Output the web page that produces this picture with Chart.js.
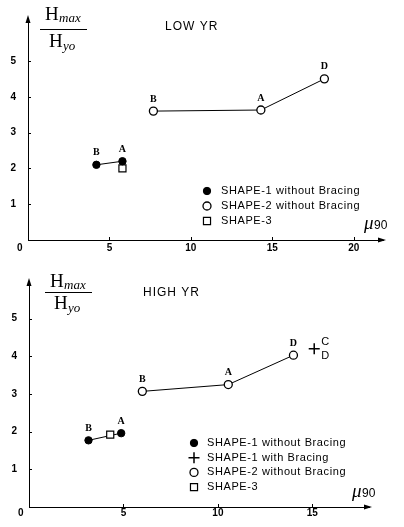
<!DOCTYPE html>
<html>
<head>
<meta charset="utf-8">
<script src="https://cdn.jsdelivr.net/npm/chart.js@4.4.0/dist/chart.umd.min.js"></script>
<style>
  body { margin: 0; background: #fff; width: 404px; height: 527px; position: relative; overflow: hidden; }
  canvas { position: absolute; left: 0; }
</style>
</head>
<body>
<canvas id="low" width="404" height="260" style="top:0"></canvas>
<canvas id="high" width="404" height="267" style="top:260px"></canvas>
<script>
// (mu90 vs Hmax/Hyo)

// LOW YR
const lowShape1X = [4.2, 5.8];
const lowShape1Y = [2.1, 2.2];
const lowShape1Tags = ['B', 'A'];
const lowShape2X = [7.7, 14.3, 18.2];
const lowShape2Y = [3.6, 3.63, 4.5];
const lowShape2Tags = ['B', 'A', 'D'];
const lowShape3X = [5.8];
const lowShape3Y = [2.0];

// HIGH YR
const highShape1X = [3.15, 4.88];
const highShape1Y = [1.77, 1.96];
const highShape1Tags = ['B', 'A'];
const highBracedX = [15.1];
const highBracedY = [4.2];
const highShape2X = [6.0, 10.55, 14.0];
const highShape2Y = [3.07, 3.25, 4.03];
const highShape2Tags = ['B', 'A', 'D'];
const highShape3X = [4.3];
const highShape3Y = [1.92];

const xTicksLow = [0, 5, 10, 15, 20];
const xTicksHigh = [0, 5, 10, 15];
const yTicks = [1, 2, 3, 4, 5];

const legendLow = ['SHAPE-1 without Bracing', 'SHAPE-2 without Bracing', 'SHAPE-3'];
const legendHigh = ['SHAPE-1 without Bracing', 'SHAPE-1 with Bracing', 'SHAPE-2 without Bracing', 'SHAPE-3'];

const SANS = '"Liberation Sans", Arial, sans-serif';
const SERIF = '"Liberation Serif", "Times New Roman", serif';

const pts = (xs, ys) => xs.map((x, i) => ({ x: x, y: ys[i] }));

// marker styles, also reused for the legend
const styles = {
  filled: { pointStyle: 'circle', pointRadius: 3.7, pointBackgroundColor: '#000', pointBorderColor: '#000', pointBorderWidth: 1 },
  open: { pointStyle: 'circle', pointRadius: 4, pointBackgroundColor: '#fff', pointBorderColor: '#000', pointBorderWidth: 1.3 },
  square: { pointStyle: 'rect', pointRadius: 5, pointBackgroundColor: '#fff', pointBorderColor: '#000', pointBorderWidth: 1.2 },
  cross: { pointStyle: 'cross', pointRadius: 5.5, pointBackgroundColor: '#000', pointBorderColor: '#000', pointBorderWidth: 1.5 },
};

function dataset(xs, ys, style, opts) {
  return Object.assign({
    data: pts(xs, ys),
    borderColor: '#000',
    borderWidth: 1,
    showLine: false,
    pointHoverRadius: styles[style].pointRadius,
  }, styles[style], opts || {});
}

// B / A / D letters above the markers
const tagPlugin = {
  id: 'tags',
  afterDatasetsDraw(chart) {
    const ctx = chart.ctx;
    ctx.save();
    ctx.fillStyle = '#000';
    ctx.textAlign = 'center';
    ctx.textBaseline = 'middle';
    chart.data.datasets.forEach((ds, i) => {
      const meta = chart.getDatasetMeta(i);
      if (ds.tags) {
        ctx.font = 'bold 10px ' + SERIF;
        meta.data.forEach((el, j) => ctx.fillText(ds.tags[j], el.x, el.y - 12));
      }
      if (ds.sideTags) {
        ctx.font = '11px ' + SANS;
        ctx.textAlign = 'left';
        meta.data.forEach((el) => {
          ctx.fillText(ds.sideTags[0], el.x + 7, el.y - 7);
          ctx.fillText(ds.sideTags[1], el.x + 7, el.y + 7);
        });
        ctx.textAlign = 'center';
      }
    });
    ctx.restore();
  }
};

// arrows, inward tick marks, fraction title, mu90, panel title and legend
const decorPlugin = {
  id: 'decor',
  afterDraw(chart) {
    const ctx = chart.ctx;
    const o = chart.options.plugins.decor;
    const a = chart.chartArea;
    const xs = chart.scales.x, ys = chart.scales.y;
    ctx.save();
    ctx.strokeStyle = '#000';
    ctx.fillStyle = '#000';
    ctx.lineWidth = 1;

    // arrow heads
    ctx.beginPath();
    ctx.moveTo(a.left, a.top - 3);
    ctx.lineTo(a.left - 2.5, a.top + 5);
    ctx.lineTo(a.left + 2.5, a.top + 5);
    ctx.closePath();
    ctx.fill();
    ctx.beginPath();
    ctx.moveTo(a.right + 3, a.bottom);
    ctx.lineTo(a.right - 5, a.bottom - 2.5);
    ctx.lineTo(a.right - 5, a.bottom + 2.5);
    ctx.closePath();
    ctx.fill();

    // inward ticks
    ctx.beginPath();
    o.xTicks.forEach((v) => {
      if (v === 0) return;
      const px = Math.round(xs.getPixelForValue(v)) + 0.5;
      ctx.moveTo(px, a.bottom);
      ctx.lineTo(px, a.bottom - 3);
    });
    yTicks.forEach((v) => {
      const py = Math.round(ys.getPixelForValue(v)) + 0.5;
      ctx.moveTo(a.left, py);
      ctx.lineTo(a.left + 3, py);
    });
    ctx.stroke();

    // H_max / H_yo
    const f = o.frac;
    ctx.textBaseline = 'alphabetic';
    ctx.textAlign = 'left';
    ctx.font = '19px ' + SERIF;
    ctx.fillText('H', f.x + 5, f.top);
    ctx.fillText('H', f.x + 9, f.bottom);
    ctx.font = 'italic 13px ' + SERIF;
    ctx.fillText('max', f.x + 19, f.top + 2);
    ctx.fillText('yo', f.x + 23, f.bottom + 3);
    ctx.beginPath();
    ctx.moveTo(f.x, f.line + 0.5);
    ctx.lineTo(f.x + 47, f.line + 0.5);
    ctx.stroke();

    // mu 90
    ctx.font = 'italic 19px ' + SERIF;
    ctx.fillText('\u03bc', o.mu.x, o.mu.y);
    ctx.font = '12px ' + SANS;
    ctx.fillText('90', o.mu.x + 10, o.mu.y);

    // panel title
    ctx.font = '12px ' + SANS;
    ctx.letterSpacing = '1px';
    ctx.textBaseline = 'middle';
    ctx.fillText(o.title.text, o.title.x, o.title.y);

    // legend
    const L = o.legend;
    ctx.font = '11px ' + SANS;
    ctx.letterSpacing = '0.6px';
    L.items.forEach((label, i) => {
      const y = L.y + i * L.step;
      const st = styles[L.marks[i]];
      ctx.fillStyle = st.pointBackgroundColor;
      ctx.strokeStyle = '#000';
      ctx.lineWidth = st.pointBorderWidth;
      ctx.beginPath();
      if (st.pointStyle === 'circle') {
        ctx.arc(L.x, y, st.pointRadius, 0, Math.PI * 2);
        ctx.fill();
        ctx.stroke();
      } else if (st.pointStyle === 'rect') {
        const s = st.pointRadius * Math.SQRT1_2;
        ctx.rect(L.x - s, y - s, 2 * s, 2 * s);
        ctx.fill();
        ctx.stroke();
      } else {
        ctx.moveTo(L.x - st.pointRadius, y);
        ctx.lineTo(L.x + st.pointRadius, y);
        ctx.moveTo(L.x, y - st.pointRadius);
        ctx.lineTo(L.x, y + st.pointRadius);
        ctx.stroke();
      }
      ctx.fillStyle = '#000';
      ctx.fillText(label, L.textX, y);
    });
    ctx.restore();
  }
};

function scales(xmax, ymax, xTicks, yWidth, xPad) {
  return {
    x: {
      type: 'linear',
      min: 0,
      max: xmax,
      grid: { display: false, drawTicks: false },
      border: { display: true, color: '#000', width: 1 },
      afterBuildTicks: (s) => { s.ticks = xTicks.map((v) => ({ value: v })); },
      afterFit: (s) => { s.height = 20; },
      ticks: {
        color: '#000',
        padding: xPad,
        maxRotation: 0,
        font: { family: SANS, size: 10, weight: 'bold' },
        callback: (v) => (v === 0 ? '0      ' : String(v)),
      },
    },
    y: {
      type: 'linear',
      min: 0,
      max: ymax,
      grid: { display: false, drawTicks: false },
      border: { display: true, color: '#000', width: 1 },
      afterBuildTicks: (s) => { s.ticks = yTicks.map((v) => ({ value: v })); },
      afterFit: (s) => { s.width = yWidth; },
      ticks: {
        color: '#000',
        padding: 12,
        font: { family: SANS, size: 10, weight: 'bold' },
      },
    },
  };
}

const common = {
  responsive: false,
  animation: false,
  devicePixelRatio: 1,
  events: [],
};

new Chart(document.getElementById('low'), {
  type: 'scatter',
  data: {
    datasets: [
      dataset(lowShape1X, lowShape1Y, 'filled', { showLine: true, tags: lowShape1Tags, order: 1 }),
      dataset(lowShape2X, lowShape2Y, 'open', { showLine: true, tags: lowShape2Tags, order: 2 }),
      dataset(lowShape3X, lowShape3Y, 'square', { order: 3 }),
    ],
  },
  options: Object.assign({}, common, {
    layout: { padding: { top: 13, right: 21, left: 0, bottom: 0 } },
    scales: scales(21.8, 6.2, xTicksLow, 28, 2),
    plugins: {
      legend: { display: false },
      tooltip: { enabled: false },
      decor: {
        xTicks: xTicksLow,
        frac: { x: 40, top: 20, line: 29, bottom: 47 },
        mu: { x: 364, y: 229 },
        title: { text: 'LOW YR', x: 165, y: 27 },
        legend: { items: legendLow, marks: ['filled', 'open', 'square'], x: 207, textX: 221, y: 191, step: 15 },
      },
    },
  }),
  plugins: [tagPlugin, decorPlugin],
});

new Chart(document.getElementById('high'), {
  type: 'scatter',
  data: {
    datasets: [
      dataset(highShape3X, highShape3Y, 'square', { order: 1 }),
      dataset(highShape1X, highShape1Y, 'filled', { showLine: true, tags: highShape1Tags, order: 2 }),
      dataset(highBracedX, highBracedY, 'cross', { sideTags: ['C', 'D'], order: 3 }),
      dataset(highShape2X, highShape2Y, 'open', { showLine: true, tags: highShape2Tags, order: 4 }),
    ],
  },
  options: Object.assign({}, common, {
    layout: { padding: { top: 21, right: 35, left: 0, bottom: 0 } },
    scales: scales(18, 6.0, xTicksHigh, 29, 0),
    plugins: {
      legend: { display: false },
      tooltip: { enabled: false },
      decor: {
        xTicks: xTicksHigh,
        frac: { x: 45, top: 27, line: 32, bottom: 49 },
        mu: { x: 352, y: 237 },
        title: { text: 'HIGH YR', x: 143, y: 33 },
        legend: { items: legendHigh, marks: ['filled', 'cross', 'open', 'square'], x: 194, textX: 207, y: 183, step: 14.7 },
      },
    },
  }),
  plugins: [tagPlugin, decorPlugin],
});
</script>
</body>
</html>
